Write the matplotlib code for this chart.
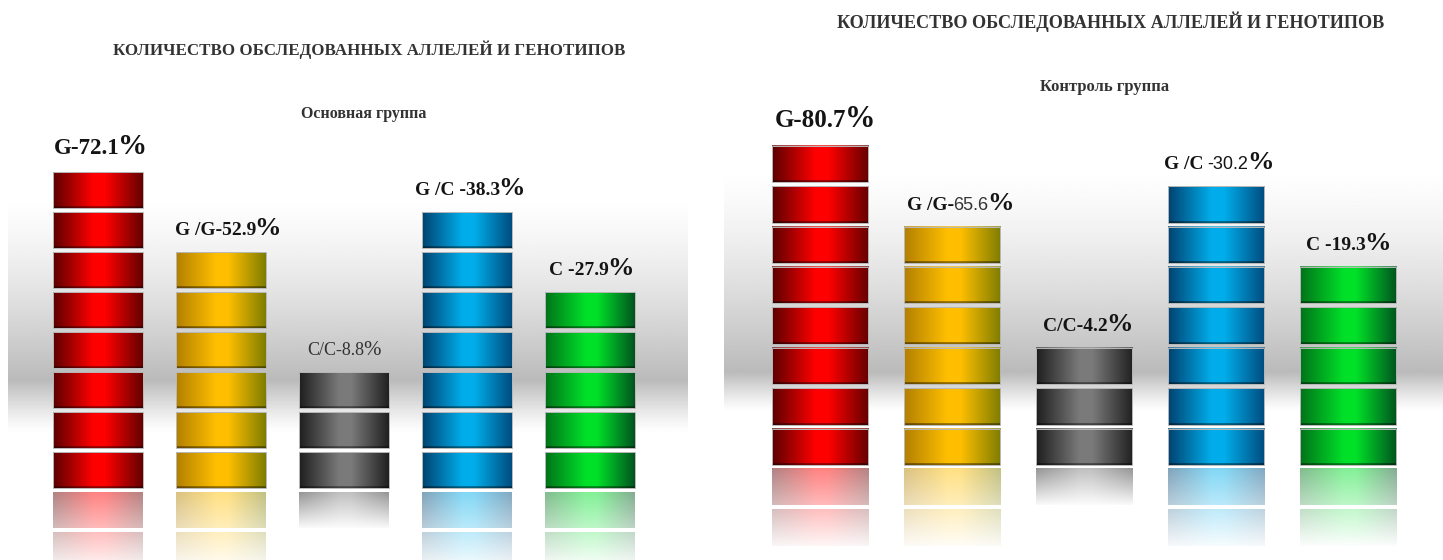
import numpy as np
import matplotlib
matplotlib.use("Agg")
import matplotlib.pyplot as plt
from matplotlib.patches import Rectangle
from matplotlib.offsetbox import TextArea, HPacker, AnnotationBbox

# данные
title = 'КОЛИЧЕСТВО ОБСЛЕДОВАННЫХ АЛЛЕЛЕЙ И ГЕНОТИПОВ'
group_names = ['Основная группа', 'Контроль группа']
names = ['G-', 'G /G-', 'C/C-', 'G /C -', 'C -']
values_main = [72.1, 52.9, 8.8, 38.3, 27.9]
values_ctrl = [80.7, 65.6, 4.2, 30.2, 19.3]
segments_main = [8, 6, 3, 7, 5]
segments_ctrl = [8, 6, 3, 7, 5]

# цвета цилиндров: край, середина, край
bar_colors = [
    [(0.36, 0.0, 0.0), (1.0, 0.0, 0.0), (0.40, 0.0, 0.0)],
    [(0.70, 0.50, 0.0), (1.0, 0.75, 0.0), (0.50, 0.49, 0.0)],
    [(0.12, 0.12, 0.12), (0.48, 0.48, 0.48), (0.13, 0.13, 0.13)],
    [(0.0, 0.26, 0.44), (0.0, 0.68, 0.92), (0.0, 0.30, 0.50)],
    [(0.0, 0.45, 0.10), (0.0, 0.88, 0.16), (0.0, 0.33, 0.12)],
]
fade_len = [2.1, 2.1, 1.0, 2.1, 2.0]

SERIF = 'Liberation Serif'
SANS = 'Liberation Sans'


def h_gradient(c, n=128):
    c = np.array(c)
    t = np.linspace(0, 1, n)
    pos = [0.0, 0.45, 0.58, 1.0]
    cols = [c[0], c[1], c[1], c[2]]
    out = np.zeros((n, 3))
    for ch in range(3):
        out[:, ch] = np.interp(t, pos, [cc[ch] for cc in cols])
    return out


def segment_img(c, rows=40):
    g = h_gradient(c)
    img = np.repeat(g[None, :, :], rows, axis=0)
    img[:2] *= 0.55     # тень снизу
    img[-1] = img[-1] * 0.6 + 0.4 * 0.85
    return np.clip(img, 0, 1)


def reflect_img(c, d0, d1, fade, s0=0.5, rows=40):
    g = h_gradient(c)
    d = np.linspace(d1, d0, rows)   # origin lower: row 0 = deepest
    s = s0 * np.clip(1 - d / fade, 0, 1)
    img = 1 - (1 - g[None, :, :]) * s[:, None, None]
    return np.clip(img, 0, 1)


def band(ax, x0, x1, y0, y1, peak):
    n = 300
    t = np.linspace(0, 1, n)  # 0 = низ, 1 = верх
    v = np.ones(n)
    for k, tt in enumerate(t):
        if tt >= peak:
            u = (1 - tt) / (1 - peak)
            v[k] = 1 - 0.27 * u ** 1.4
        else:
            u = tt / peak
            v[k] = 1 - 0.27 * u ** 1.2
    img = np.repeat(v[:, None], 4, axis=1)
    ax.imshow(img, cmap='gray', vmin=0, vmax=1, extent=(x0, x1, y0, y1),
              transform=ax.transAxes, origin='lower', aspect='auto',
              interpolation='bilinear', zorder=0)


def draw_panel(ax, segs, width=0.73, gap=0.1):
    for i, n in enumerate(segs):
        c = bar_colors[i]
        x0, x1 = i - width / 2, i + width / 2
        img = segment_img(c)
        for k in range(n):
            y0, y1 = k + gap / 2, k + 1 - gap / 2
            ax.imshow(img, extent=(x0, x1, y0, y1), origin='lower',
                      aspect='auto', interpolation='bilinear', zorder=2)
            ax.add_patch(Rectangle((x0, y0), width, y1 - y0, fill=False,
                                   edgecolor='0.72', lw=0.7, zorder=3))
        # отражение
        for k in range(2):
            d0, d1 = k + gap / 2, k + 1 - gap / 2
            if d0 >= fade_len[i]:
                continue
            rimg = reflect_img(c, d0, d1, fade_len[i])
            ax.imshow(rimg, extent=(x0, x1, -d1, -d0), origin='lower',
                      aspect='auto', interpolation='bilinear', zorder=2)


def draw_label(ax, x, y, pieces, dy=7, shift=0):
    boxes = [TextArea(t, textprops=p) for t, p in pieces]
    pack = HPacker(children=boxes, align='baseline', pad=0, sep=-1)
    ab = AnnotationBbox(pack, (x, y), xybox=(shift, dy), xycoords='data',
                        boxcoords='offset points', box_alignment=(0.5, 0),
                        frameon=False, pad=0, zorder=5)
    ax.add_artist(ab)


def bold(size, color='0.08'):
    return dict(fontfamily=SERIF, fontweight='bold', fontsize=size, color=color)


def regular(size, family=SERIF, color='0.2'):
    return dict(fontfamily=family, fontweight='normal', fontsize=size, color=color)


fig = plt.figure(figsize=(14.43, 5.60), dpi=100)
fig.patch.set_facecolor('white')

ax1 = fig.add_axes([0, 0, 720 / 1443, 1])
ax2 = fig.add_axes([720 / 1443, 0, 723 / 1443, 1])

# фон-полоса
band(ax1, 8 / 720, 688 / 720, 127 / 560, 367 / 560, peak=0.22)
band(ax2, 4 / 723, 1.0, 148 / 560, 395 / 560, peak=0.16)

draw_panel(ax1, segments_main)
draw_panel(ax2, segments_ctrl)

# подписи — основная группа
lab1 = [
    [(names[0] + f'{values_main[0]}', bold(16.5)), ('%', bold(21))],
    [(names[1] + f'{values_main[1]}', bold(14)), ('%', bold(19))],
    [(names[2] + f'{values_main[2]}', regular(13)), ('%', regular(15))],
    [(names[3] + f'{values_main[3]}', bold(14)), ('%', bold(19))],
    [(names[4] + f'{values_main[4]}', bold(14)), ('%', bold(19))],
]
shift1 = [2, 5, 0, 2, 1]
for i, pieces in enumerate(lab1):
    draw_label(ax1, i, segments_main[i], pieces, shift=shift1[i])

# подписи — контроль
lab2 = [
    [(names[0] + f'{values_ctrl[0]}', bold(18)), ('%', bold(22))],
    [(names[1], bold(14)), (f'{values_ctrl[1]}', regular(13, SANS, '0.2')), ('%', bold(19))],
    [(names[2] + f'{values_ctrl[2]}', bold(14)), ('%', bold(19))],
    [('G /C ', bold(14)), (f'-{values_ctrl[3]}', regular(13, SANS, '0.08')), ('%', bold(19))],
    [(names[4] + f'{values_ctrl[4]}', bold(14)), ('%', bold(19))],
]
shift2 = [4, 6, 3, 2, 0]
for i, pieces in enumerate(lab2):
    draw_label(ax2, i, segments_ctrl[i], pieces, shift=shift2[i])

ax1.set_xlim(-98 / 123, 622 / 123)
ax1.set_ylim(-70 / 40, 490 / 40)
ax2.set_xlim(-100 / 132, 623 / 132)
ax2.set_ylim(-93 / 40.4, 467 / 40.4)
for ax in (ax1, ax2):
    ax.axis('off')

# заголовки
fig.text(369 / 1443, 1 - 50 / 560, title, ha='center', va='center',
         fontfamily=SERIF, fontweight='bold', fontsize=12.2, color='0.2')
fig.text(1111 / 1443, 1 - 22 / 560, title, ha='center', va='center',
         fontfamily=SERIF, fontweight='bold', fontsize=13.1, color='0.2')
fig.text(364 / 1443, 1 - 114 / 560, group_names[0], ha='center', va='center',
         fontfamily=SERIF, fontweight='bold', fontsize=11.5, color='0.2')
fig.text(1105 / 1443, 1 - 87 / 560, group_names[1], ha='center', va='center',
         fontfamily=SERIF, fontweight='bold', fontsize=12, color='0.2')

fig.savefig('out.png', dpi=100, facecolor='white')
